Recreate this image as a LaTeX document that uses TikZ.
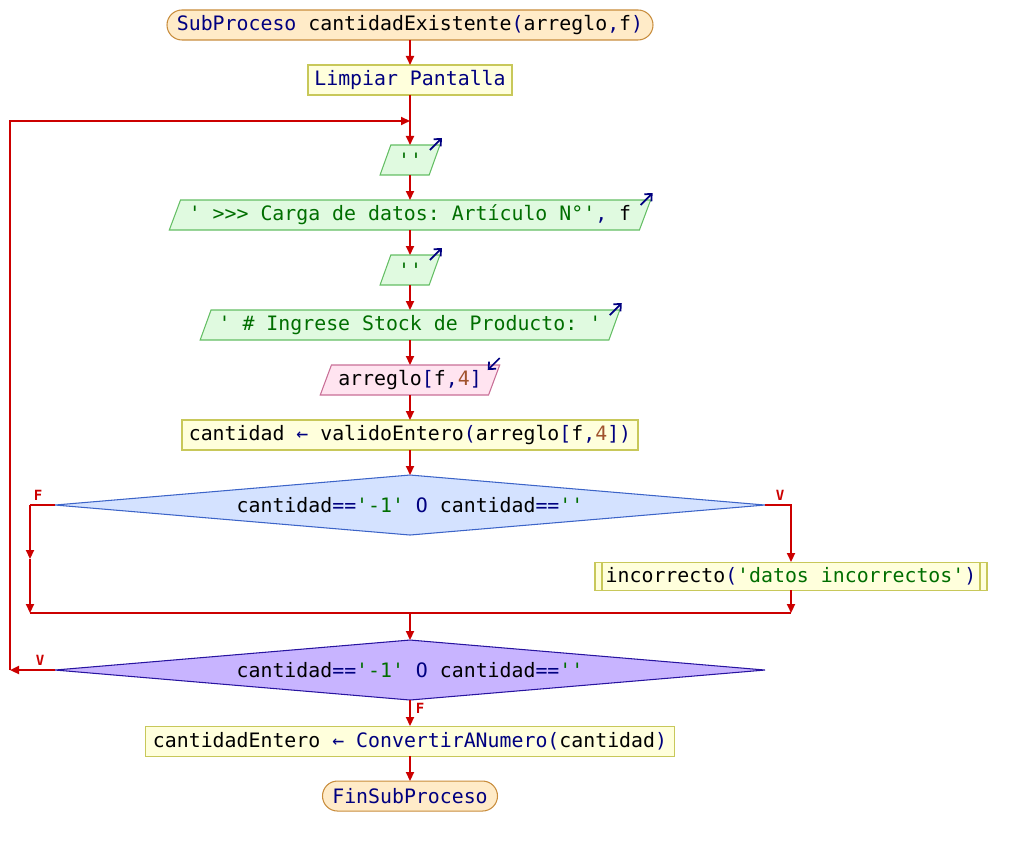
\documentclass[tikz,border=0pt]{standalone}
\usepackage{fontspec}
\setmonofont{DejaVu Sans Mono}
\usepackage{tikz}
\usetikzlibrary{arrows.meta,positioning,shapes.geometric,calc}
\usepackage{xcolor}
\definecolor{flowred}{RGB}{204,0,0}
\definecolor{kwblue}{RGB}{0,0,128}
\definecolor{strgreen}{RGB}{0,110,0}
\definecolor{numbrown}{RGB}{160,82,45}
\definecolor{termfill}{RGB}{255,235,200}
\definecolor{termline}{RGB}{200,140,60}
\definecolor{procfill}{RGB}{255,255,220}
\definecolor{procline}{RGB}{200,200,90}
\definecolor{outfill}{RGB}{224,250,224}
\definecolor{outborder}{RGB}{100,190,100}
\definecolor{infill}{RGB}{255,228,240}
\definecolor{inborder}{RGB}{200,110,150}
\definecolor{condfill}{RGB}{212,226,255}
\definecolor{condline}{RGB}{60,100,200}
\definecolor{loopfill}{RGB}{200,180,255}
\definecolor{loopline}{RGB}{40,20,160}
\newcommand{\kwd}[1]{\textcolor{kwblue}{#1}}
\newcommand{\strg}[1]{\textcolor{strgreen}{#1}}
\newcommand{\numb}[1]{\textcolor{numbrown}{#1}}

\begin{document}
\begin{tikzpicture}[
  base/.style={draw, font=\ttfamily\fontsize{11.3}{13}\selectfont, inner sep=2pt, outer sep=0pt, minimum height=6mm, line width=0.6pt},
  term/.style={base, rounded corners=3mm, fill=termfill, draw=termline},
  proc/.style={base, fill=procfill, draw=procline},
  call/.style={proc, path picture={\draw[procline, line width=0.6pt]
      ([xshift=1.4mm]path picture bounding box.north west) -- ([xshift=1.4mm]path picture bounding box.south west)
      ([xshift=-1.4mm]path picture bounding box.north east) -- ([xshift=-1.4mm]path picture bounding box.south east);}},
  outp/.style={base, trapezium, trapezium left angle=68, trapezium right angle=112, trapezium stretches=true, fill=outfill, draw=outborder},
  inp/.style={outp, fill=infill, draw=inborder},
  cond/.style={base, diamond, shape aspect=12, inner sep=0pt, minimum width=14.2cm, minimum height=12mm, fill=condfill, draw=condline},
  wire/.style={flowred, line width=1.1pt},
  flow/.style={wire, -{Triangle[length=1.8mm,width=1.6mm]}},
  io/.style={kwblue, line width=1pt, -{Straight Barb[length=1.1mm,width=2mm]}},
  lbl/.style={font=\ttfamily\bfseries\fontsize{8}{9}\selectfont, text=flowred, inner sep=0pt},
]
  \useasboundingbox (0,0) rectangle (20.36,-16.9);
  \node[term, minimum width=97.2mm] (start) at (8.2,-0.5) {\kwd{SubProceso} cantidadExistente\kwd{(}arreglo\kwd{,}f\kwd{)}};
  \node[proc, minimum width=40.8mm, below=5mm of start] (lim) {\kwd{Limpiar Pantalla}};
  \coordinate[below=5.2mm of lim] (join);
  \node[outp, minimum width=12mm, below=10mm of lim] (p1) {\strg{'{}'}};
  \node[outp, minimum width=96.4mm, below=5mm of p1] (o2) {\strg{' >{}>{}> Carga de datos: Artículo N°'}\kwd{,} f};
  \node[outp, minimum width=12mm, below=5mm of o2] (p3) {\strg{'{}'}};
  \node[outp, minimum width=84mm, below=5mm of p3] (o4) {\strg{' \# Ingrese Stock de Producto: '}};
  \node[inp, minimum width=36mm, below=5mm of o4] (in5) {arreglo\kwd{[}f\kwd{,}\numb{4}\kwd{]}};
  \node[proc, minimum width=91.2mm, below=5mm of in5] (asig) {cantidad \kwd{←} validoEntero\kwd{(}arreglo\kwd{[}f\kwd{,}\numb{4}\kwd{])}};
  \node[cond, below=5mm of asig] (d1) {cantidad\kwd{==}\strg{'-1'} \kwd{O} cantidad\kwd{==}\strg{'{}'}};
  \node[call, minimum width=78.4mm, minimum height=5.6mm, below=11.4mm of d1.east, xshift=5.2mm] (inc) {incorrecto\kwd{(}\strg{'datos incorrectos'}\kwd{)}};
  \coordinate[below=15.6mm of d1] (mrg);
  \node[cond, fill=loopfill, draw=loopline, below=5.4mm of mrg] (d2) {cantidad\kwd{==}\strg{'-1'} \kwd{O} cantidad\kwd{==}\strg{'{}'}};
  \node[proc, minimum width=105.8mm, below=5.2mm of d2] (asig2) {cantidadEntero \kwd{←} \kwd{ConvertirANumero(}cantidad\kwd{)}};
  \node[term, minimum width=35mm, below=5mm of asig2] (fin) {\kwd{FinSubProceso}};

  \coordinate (fL) at ([xshift=-5mm]d1.west);
  \coordinate (fMid) at ($(fL)!0.5!(fL |- mrg)$);
  \coordinate (lp) at ([xshift=-9mm]d2.west);

  \draw[flow] (start) -- (lim);
  \draw[wire] (lim) -- (join);
  \draw[flow] (join) -- (p1);
  \draw[flow] (p1) -- (o2);
  \draw[flow] (o2) -- (p3);
  \draw[flow] (p3) -- (o4);
  \draw[flow] (o4) -- (in5);
  \draw[flow] (in5) -- (asig);
  \draw[flow] (asig) -- (d1);
  \draw[wire] (d1.west) -- (fL);
  \draw[flow] (fL) -- (fMid);
  \draw[flow] (fMid) -- (fL |- mrg);
  \draw[flow] (d1.east) -| (inc.north);
  \draw[flow] (inc.south) -- (inc.south |- mrg);
  \draw[wire] (fL |- mrg) -- (inc.south |- mrg);
  \draw[flow] (mrg) -- (d2);
  \draw[flow] (d2.west) -- (lp);
  \draw[flow] (lp) |- (join);
  \draw[flow] (d2) -- (asig2);
  \draw[flow] (asig2) -- (fin);

  \node[lbl] at ([shift={(1.6mm,2mm)}]fL) {F};
  \node[lbl] at ([shift={(3mm,2mm)}]d1.east) {V};
  \node[lbl] at ([shift={(-3mm,2mm)}]d2.west) {V};
  \node[lbl] at ([shift={(2mm,-1.6mm)}]d2.south) {F};

  \foreach \o in {p1,o2,p3,o4}
    \draw[io] ([shift={(-2mm,-1mm)}]\o.top right corner) -- ([shift={(0.4mm,1.4mm)}]\o.top right corner);
  \draw[io] ([shift={(0mm,1.4mm)}]in5.top right corner) -- ([shift={(-2.4mm,-1mm)}]in5.top right corner);
\end{tikzpicture}
\end{document}
